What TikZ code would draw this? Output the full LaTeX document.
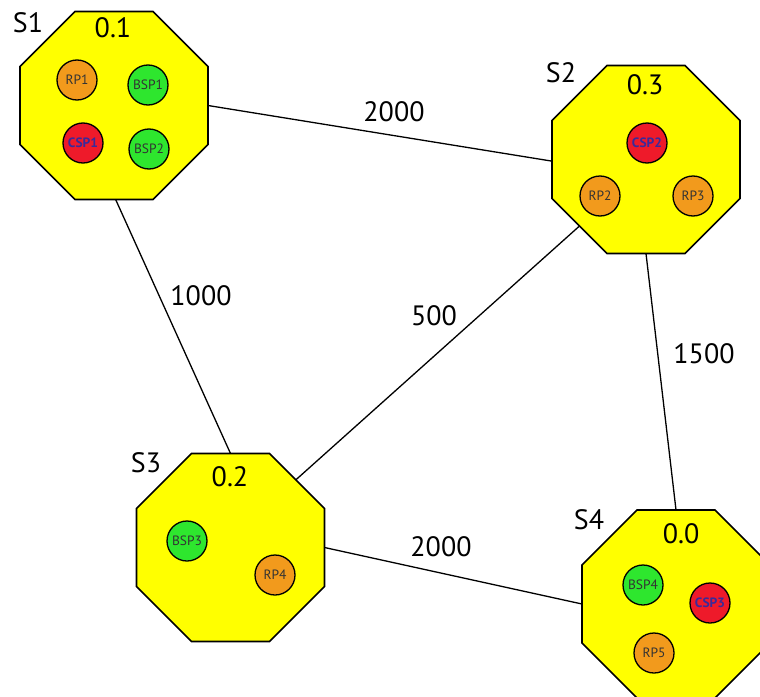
\documentclass[tikz,border=0pt]{standalone}
\usepackage{fontspec}
\setmainfont{PT Sans}
\usetikzlibrary{shapes.geometric}
\definecolor{octyellow}{HTML}{FFFF00}
\definecolor{rporange}{HTML}{F29A1C}
\definecolor{bspgreen}{HTML}{2EE62E}
\definecolor{cspred}{HTML}{EE1A2A}
\definecolor{csptext}{HTML}{3A2A9A}
\begin{document}
\begin{tikzpicture}[x=1pt,y=-1pt,
  site/.style={regular polygon, regular polygon sides=8, minimum size=203.5pt,
    fill=octyellow, draw=black, line width=1.6pt, inner sep=0pt, outer sep=0pt},
  proc/.style={circle, minimum size=40pt, inner sep=0pt, draw=black, line width=1.3pt,
    font=\fontsize{13.5}{14}\selectfont},
  rp/.style={proc, fill=rporange, text=black!80},
  bsp/.style={proc, fill=bspgreen, text=black!80},
  csp/.style={proc, fill=cspred, text=csptext, font=\fontsize{13.5}{14}\selectfont\bfseries},
  big/.style={font=\fontsize{28}{30}\selectfont, inner sep=0pt},
  edge/.style={line width=1.3pt}]
\useasboundingbox (0,0) rectangle (760,696);
\fill[white] (0,0) rectangle (760,696);
% sites
\node[site] (S1) at (114,105.5) {};
\node[site] (S2) at (646,159.5) {};
\node[site] (S3) at (230.5,547.5) {};
\node[site] (S4) at (676,604) {};
% connectors
\draw[edge] (S1.east) -- (S2.181);
\draw[edge] (S1.-89) -- (S3.90);
\draw[edge] (S2.225) -- (S3.46);
\draw[edge] (S2.-90) -- (S4.90);
\draw[edge] (S3.east) -- (S4.west);
% edge labels
\node[big] (l12) at (394,112) {2000};
\node[big] (l13) at (201,296) {1000};
\node[big] (l23) at (434,316) {500};
\node[big] (l24) at (704,354) {1500};
\node[big] (l34) at (441,547) {2000};
% site names and values
\node[big] (n1) at (28,23) {S1};
\node[big] (n2) at (561,73) {S2};
\node[big] (n3) at (146,463) {S3};
\node[big] (n4) at (589,520) {S4};
\node[big] (v1) at (113,28) {0.1};
\node[big] (v2) at (645,85) {0.3};
\node[big] (v3) at (230,477) {0.2};
\node[big] (v4) at (681,534) {0.0};
% processes S1
\node[rp] (RP1) at (77,80) {RP1};
\node[bsp] (BSP1) at (148,85) {BSP1};
\node[csp] (CSP1) at (83,143) {CSP1};
\node[bsp] (BSP2) at (149,149) {BSP2};
% S2
\node[csp] (CSP2) at (647,143) {CSP2};
\node[rp] (RP2) at (600,196) {RP2};
\node[rp] (RP3) at (693,196) {RP3};
% S3
\node[bsp] (BSP3) at (187,541) {BSP3};
\node[rp] (RP4) at (275,575) {RP4};
% S4
\node[bsp] (BSP4) at (643,585) {BSP4};
\node[csp] (CSP3) at (710,603) {CSP3};
\node[rp] (RP5) at (654,653) {RP5};
\end{tikzpicture}
\end{document}
